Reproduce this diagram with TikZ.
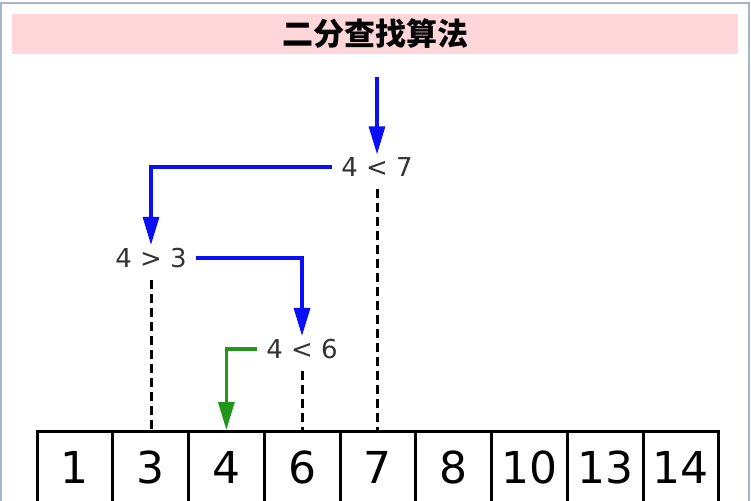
\documentclass[tikz,border=0pt]{standalone}
\usepackage{fontspec}
\usepackage{xcolor}
\usepackage{tikz}
\usetikzlibrary{positioning,calc,arrows.meta}
\newfontfamily\cjk{Noto Sans CJK SC}[BoldFont={Noto Sans CJK SC Black}]
\newfontfamily\labelfont{DejaVu Sans}
\definecolor{titlepink}{HTML}{FFD6DA}
\definecolor{framegray}{HTML}{A3B5CF}
\definecolor{searchblue}{HTML}{0A10F5}
\definecolor{foundgreen}{HTML}{22961A}
\tikzset{
  bsfont/.style={font=\labelfont\fontsize{26}{30}\selectfont},
  bscell/.style={draw, line width=3pt, minimum width=75.75pt, minimum height=72pt,
    inner sep=0pt, font=\labelfont\fontsize{44}{48}\selectfont},
  bscmp/.style={bsfont, inner xsep=9pt, inner ysep=3pt, text=black!80},
  bsarrow/.style={-{Triangle[length=28pt, width=16pt]}, line width=3.3pt},
  bsarrowblue/.style={bsarrow, searchblue},
  bsarrowgreen/.style={bsarrow, foundgreen},
  bsdashed/.style={line width=3pt, dash pattern=on 9pt off 5pt, shorten <=9pt},
}

\begin{document}
\begin{tikzpicture}[x=1pt, y=-1pt]
		\clip (0,0) rectangle (751,500);
		\useasboundingbox (0,0) rectangle (751,500);

		% Outer frame
		\draw[framegray, line width=2pt] (1,3) rectangle (749,520);

		% Title bar
		\node[fill=titlepink, minimum width=726pt, minimum height=40pt,
			font=\cjk\bfseries\fontsize{31}{33}\selectfont] (title) at (375,34) {二分查找算法};

		% Sorted array
		\foreach \v [count=\i] in {1,3,4,6,7,8,10,13,14}
			\node[bscell] (c\i) at ({37+75.75*(\i-0.5)},467.5) {\v};

		% Comparisons
		\node[bscmp] (cmp7) at (377,167) {4 < 7};
		\node[bscmp] (cmp3) at (151,258) {4 > 3};
		\node[bscmp] (cmp6) at (302,349) {4 < 6};

		% Search path
		\coordinate (start) at (377,77);
		\draw[bsarrowblue] (start) -- (cmp7.north);
		\draw[bsarrowblue] (cmp7.west) -| (cmp3.north);
		\draw[bsarrowblue] (cmp3.east) -| (cmp6.north);
		\draw[bsarrowgreen] (cmp6.west) -| (c3.north);

		% Pointers down to the array
		\draw[bsdashed] (cmp7.south) -- (cmp7.south |- c5.north);
		\draw[bsdashed] (cmp3.south) -- (cmp3.south |- c2.north);
		\draw[bsdashed] (cmp6.south) -- (cmp6.south |- c4.north);
	\end{tikzpicture}
\end{document}
